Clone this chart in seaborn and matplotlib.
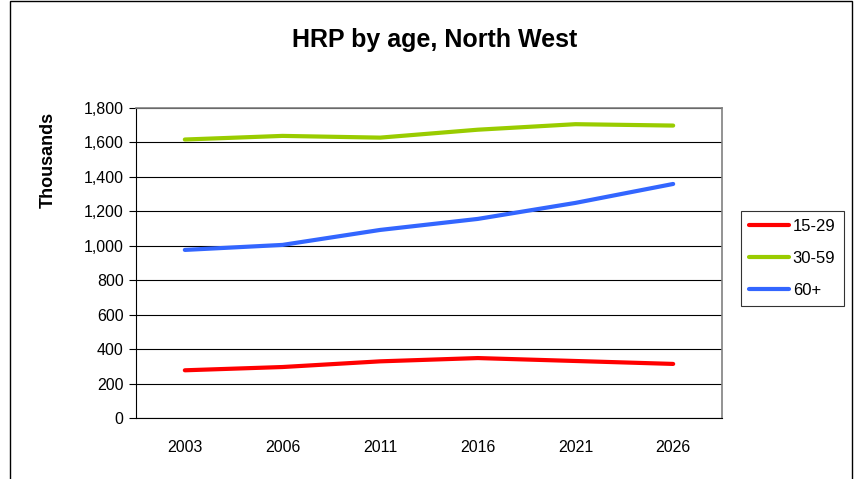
import pandas as pd
import numpy as np
import matplotlib
matplotlib.use("Agg")
import matplotlib.pyplot as plt
import seaborn as sns
from matplotlib.patches import Rectangle

# data (thousands)
years = ["2003", "2006", "2011", "2016", "2021", "2026"]
age_15_29 = [277, 296, 329, 348, 331, 314]
age_30_59 = [1617, 1638, 1628, 1674, 1706, 1698]
age_60_plus = [976, 1005, 1092, 1156, 1249, 1359]
groups = ["15-29", "30-59", "60+"]
colors = ["#FF0000", "#99CC00", "#3366FF"]

df = pd.DataFrame({
    "year": years * 3,
    "value": age_15_29 + age_30_59 + age_60_plus,
    "group": np.repeat(groups, len(years)),
})

sns.set_style("white")
plt.rcParams['font.family'] = ['Liberation Sans', 'DejaVu Sans']
plt.rcParams['text.color'] = 'black'
plt.rcParams['xtick.color'] = 'black'
plt.rcParams['ytick.color'] = 'black'
plt.rcParams['axes.labelcolor'] = 'black'

fig = plt.figure(figsize=(8.55, 4.79), dpi=100)
ax = fig.add_axes([136 / 855, 1 - 418 / 479, (722 - 136) / 855, (418 - 108) / 479])

sns.lineplot(data=df, x="year", y="value", hue="group", palette=colors,
             linewidth=3, ax=ax, sort=False)

ax.set_xlim(-0.5, 5.5)
ax.set_ylim(0, 1800)
ax.set_yticks(np.arange(0, 1801, 200))
ax.yaxis.set_major_formatter(matplotlib.ticker.FuncFormatter(lambda v, p: f"{int(v):,}"))
ax.yaxis.grid(True, color="black", linewidth=0.8)
ax.set_axisbelow(True)

# category ticks between labels
ax.set_xticks(np.arange(-0.5, 5.6, 1), minor=True)
ax.tick_params(axis="x", which="major", length=0, labelsize=11.5, pad=16)
ax.tick_params(axis="x", which="minor", length=5, width=0.8, color="black", direction="out")
ax.tick_params(axis="y", which="major", length=5, width=0.8, color="black", direction="out",
               labelsize=11.5, left=True, pad=4)

for side in ["top", "right"]:
    ax.spines[side].set_color("#808080")
    ax.spines[side].set_linewidth(1.2)
for side in ["left", "bottom"]:
    ax.spines[side].set_color("black")
    ax.spines[side].set_linewidth(0.8)

ax.set_xlabel("")
ax.set_ylabel("Thousands", fontsize=13, fontweight="bold")
ax.yaxis.set_label_coords(57 / 855, 1 - 160 / 479, transform=fig.transFigure)

fig.text(435 / 855, 1 - 40 / 479, "HRP by age, North West", ha="center", va="center",
         fontsize=18, fontweight="bold")

leg = ax.legend(title=None, loc="upper left", bbox_to_anchor=(741 / 855, 1 - 211 / 479),
                bbox_transform=fig.transFigure, frameon=True, fancybox=False,
                fontsize=12, handlelength=2.4, handletextpad=0.2, labelspacing=1.0,
                borderpad=0.5, borderaxespad=0)
leg.get_frame().set_edgecolor("black")
leg.get_frame().set_linewidth(0.8)
for line in leg.get_lines():
    line.set_linewidth(3)

# outer chart frame
fig.patches.append(Rectangle((10 / 855, -0.05), (852 - 10) / 855, 1.05 - 1 / 479,
                             transform=fig.transFigure, fill=False,
                             edgecolor="black", linewidth=1))

fig.savefig("out.png", dpi=100)
